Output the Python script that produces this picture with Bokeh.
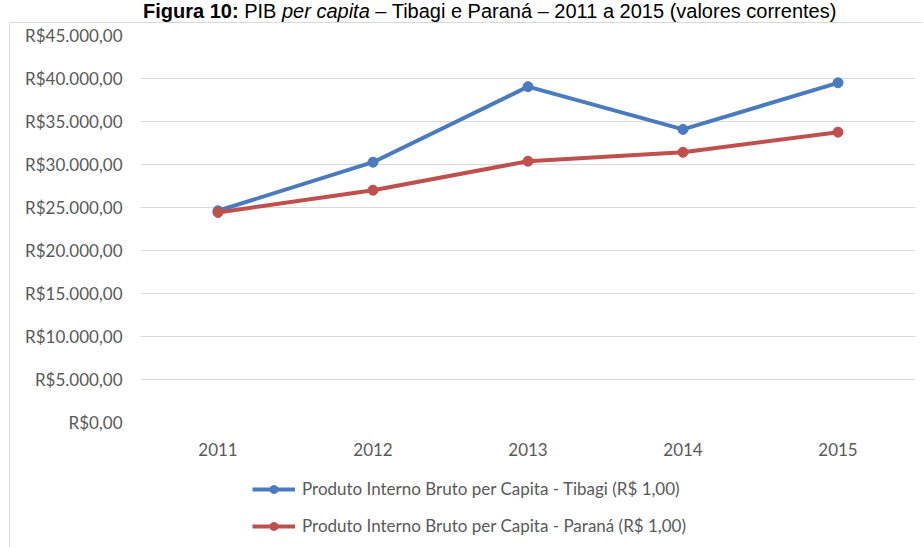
from bokeh.plotting import figure
from bokeh.models import FixedTicker, Legend, LegendItem, Range1d, Div
from bokeh.layouts import column
from bokeh.embed import file_html
from bokeh.resources import INLINE

years = ["2011", "2012", "2013", "2014", "2015"]
tibagi = [24620, 30270, 39050, 34080, 39500]
parana = [24420, 27010, 30380, 31420, 33760]
y_ticks = [0, 5000, 10000, 15000, 20000, 25000, 30000, 35000, 40000, 45000]
y_tick_labels = ["R$0,00", "R$5.000,00", "R$10.000,00", "R$15.000,00", "R$20.000,00",
                 "R$25.000,00", "R$30.000,00", "R$35.000,00", "R$40.000,00", "R$45.000,00"]
series_names = ["Produto Interno Bruto per Capita - Tibagi (R$ 1,00)",
                "Produto Interno Bruto per Capita - Paraná (R$ 1,00)"]
title_html = ("<b>Figura 10:</b> PIB <i>per capita</i> – Tibagi e Paraná – "
              "2011 a 2015 (valores correntes)")

BLUE = "#4A7BBF"
RED = "#C0504D"
GRID = "#D9D9D9"
TXT = "#595959"
FONT = "Lato"

title = Div(text=('<div style="margin-left:143px; white-space:nowrap; '
                  'font-family:\'Liberation Sans\'; font-size:20px; line-height:22px; color:#000">'
                  + title_html + '</div>'),
            width=924, height=22, margin=0, styles={"overflow": "hidden"})

p = figure(x_range=years, y_range=Range1d(0, 45000), width=912, height=439,
           output_backend="svg", toolbar_location=None,
           min_border_left=130, min_border_right=7, min_border_top=12, min_border_bottom=40)
p.outline_line_color = None
p.background_fill_color = "white"
p.border_fill_color = "white"

p.yaxis.ticker = FixedTicker(ticks=y_ticks)
p.yaxis.major_label_overrides = {t: l for t, l in zip(y_ticks, y_tick_labels)}
for ax in (p.xaxis, p.yaxis):
    ax.axis_line_color = None
    ax.major_tick_line_color = None
    ax.minor_tick_line_color = None
    ax.major_label_text_font = FONT
    ax.major_label_text_font_size = "17px"
    ax.major_label_text_color = TXT
p.yaxis.major_label_standoff = 12
p.xaxis.major_label_standoff = 14
p.xgrid.grid_line_color = None
p.ygrid.grid_line_color = GRID
p.ygrid.grid_line_width = 1

p.line(years, tibagi, line_color=BLUE, line_width=4)
p.scatter(years, tibagi, size=10, fill_color=BLUE, line_color=BLUE)
p.line(years, parana, line_color=RED, line_width=4)
p.scatter(years, parana, size=10, fill_color=RED, line_color=RED)

# legend panel below the chart (its own frame, series kept out of view)
lf = figure(x_range=p.x_range, y_range=Range1d(-2, -1), width=912, height=85,
            output_backend="svg", toolbar_location=None, x_axis_type=None, y_axis_type=None,
            min_border_left=130, min_border_right=7, min_border_top=0, min_border_bottom=0)
lf.outline_line_color = None
lf.xgrid.grid_line_color = None
lf.ygrid.grid_line_color = None
d1 = lf.line(years, tibagi, line_color=BLUE, line_width=4)
e1 = lf.scatter(years, tibagi, size=10, fill_color=BLUE, line_color=BLUE)
d2 = lf.line(years, parana, line_color=RED, line_width=4)
e2 = lf.scatter(years, parana, size=10, fill_color=RED, line_color=RED)
legend = Legend(items=[LegendItem(label=series_names[0], renderers=[d1, e1]),
                       LegendItem(label=series_names[1], renderers=[d2, e2])],
                orientation="vertical", location=(112, 11),
                label_text_font=FONT, label_text_font_size="17px", label_text_color=TXT,
                glyph_width=43, glyph_height=20, label_height=20, label_standoff=7, spacing=16,
                border_line_color=None, background_fill_alpha=0, padding=0, margin=0)
lf.add_layout(legend, "center")

box = column(p, lf, spacing=0, styles={"margin-left": "9px", "border-left": "1px solid #D9D9D9",
                                       "border-top": "1px solid #D9D9D9"})
layout = column(title, box, spacing=0)

open("out.html", "w").write(file_html(layout, INLINE))
